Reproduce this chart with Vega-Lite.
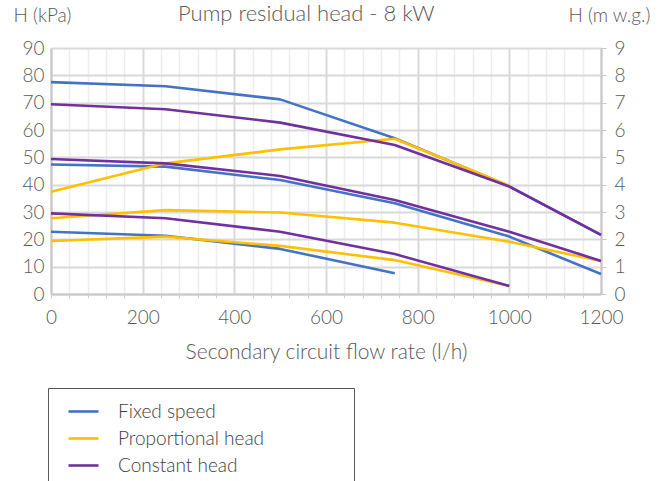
{
  "$schema": "https://vega.github.io/schema/vega-lite/v6.json",
  "width": 550,
  "height": 246,
  "autosize": {"type": "none"},
  "padding": {"left": 51, "top": 48, "right": 68, "bottom": 187},
  "background": "white",
  "config": {
    "font": "Lato",
    "view": {"stroke": null},
    "axis": {"labelFont": "Lato", "titleFont": "Lato", "labelFontWeight": 300, "titleFontWeight": 300, "labelColor": "#595959", "titleColor": "#595959", "labelFontSize": 19, "titleFontSize": 19}
  },
  "title": {"text": "Pump residual head - 8 kW", "frame": "group", "anchor": "start", "dx": 127, "offset": -30, "baseline": "middle", "fontSize": 22, "fontWeight": 300, "color": "#595959", "font": "Lato"},
  "datasets": {
    "curves": [
      {"mode": "Fixed speed", "curve": "FS1", "flow": 0, "kPa": 77.5},
      {"mode": "Fixed speed", "curve": "FS1", "flow": 250, "kPa": 76},
      {"mode": "Fixed speed", "curve": "FS1", "flow": 500, "kPa": 71.2},
      {"mode": "Fixed speed", "curve": "FS1", "flow": 750, "kPa": 57},
      {"mode": "Fixed speed", "curve": "FS1", "flow": 1000, "kPa": 39.4},
      {"mode": "Fixed speed", "curve": "FS1", "flow": 1200, "kPa": 21.6},
      {"mode": "Fixed speed", "curve": "FS2", "flow": 0, "kPa": 47.4},
      {"mode": "Fixed speed", "curve": "FS2", "flow": 250, "kPa": 46.6},
      {"mode": "Fixed speed", "curve": "FS2", "flow": 500, "kPa": 41.7},
      {"mode": "Fixed speed", "curve": "FS2", "flow": 750, "kPa": 33.2},
      {"mode": "Fixed speed", "curve": "FS2", "flow": 1000, "kPa": 21},
      {"mode": "Fixed speed", "curve": "FS2", "flow": 1200, "kPa": 7.3},
      {"mode": "Fixed speed", "curve": "FS3", "flow": 0, "kPa": 22.8},
      {"mode": "Fixed speed", "curve": "FS3", "flow": 250, "kPa": 21.3},
      {"mode": "Fixed speed", "curve": "FS3", "flow": 500, "kPa": 16.5},
      {"mode": "Fixed speed", "curve": "FS3", "flow": 750, "kPa": 7.6},
      {"mode": "Proportional head", "curve": "PH1", "flow": 0, "kPa": 37.4},
      {"mode": "Proportional head", "curve": "PH1", "flow": 250, "kPa": 47.8},
      {"mode": "Proportional head", "curve": "PH1", "flow": 500, "kPa": 52.9},
      {"mode": "Proportional head", "curve": "PH1", "flow": 750, "kPa": 56.8},
      {"mode": "Proportional head", "curve": "PH1", "flow": 1000, "kPa": 39.6},
      {"mode": "Proportional head", "curve": "PH2", "flow": 0, "kPa": 27.7},
      {"mode": "Proportional head", "curve": "PH2", "flow": 250, "kPa": 30.7},
      {"mode": "Proportional head", "curve": "PH2", "flow": 500, "kPa": 29.8},
      {"mode": "Proportional head", "curve": "PH2", "flow": 750, "kPa": 26.1},
      {"mode": "Proportional head", "curve": "PH2", "flow": 1000, "kPa": 19.1},
      {"mode": "Proportional head", "curve": "PH2", "flow": 1200, "kPa": 12.1},
      {"mode": "Proportional head", "curve": "PH3", "flow": 0, "kPa": 19.4},
      {"mode": "Proportional head", "curve": "PH3", "flow": 250, "kPa": 21},
      {"mode": "Proportional head", "curve": "PH3", "flow": 500, "kPa": 17.6},
      {"mode": "Proportional head", "curve": "PH3", "flow": 750, "kPa": 12.4},
      {"mode": "Proportional head", "curve": "PH3", "flow": 1000, "kPa": 2.9},
      {"mode": "Constant head", "curve": "CH1", "flow": 0, "kPa": 69.4},
      {"mode": "Constant head", "curve": "CH1", "flow": 250, "kPa": 67.6},
      {"mode": "Constant head", "curve": "CH1", "flow": 500, "kPa": 62.7},
      {"mode": "Constant head", "curve": "CH1", "flow": 750, "kPa": 54.5},
      {"mode": "Constant head", "curve": "CH1", "flow": 1000, "kPa": 39.3},
      {"mode": "Constant head", "curve": "CH1", "flow": 1200, "kPa": 21.6},
      {"mode": "Constant head", "curve": "CH2", "flow": 0, "kPa": 49.4},
      {"mode": "Constant head", "curve": "CH2", "flow": 250, "kPa": 47.8},
      {"mode": "Constant head", "curve": "CH2", "flow": 500, "kPa": 43.2},
      {"mode": "Constant head", "curve": "CH2", "flow": 750, "kPa": 34.4},
      {"mode": "Constant head", "curve": "CH2", "flow": 1000, "kPa": 22.8},
      {"mode": "Constant head", "curve": "CH2", "flow": 1200, "kPa": 12.1},
      {"mode": "Constant head", "curve": "CH3", "flow": 0, "kPa": 29.5},
      {"mode": "Constant head", "curve": "CH3", "flow": 250, "kPa": 27.7},
      {"mode": "Constant head", "curve": "CH3", "flow": 500, "kPa": 22.8},
      {"mode": "Constant head", "curve": "CH3", "flow": 750, "kPa": 14.6},
      {"mode": "Constant head", "curve": "CH3", "flow": 1000, "kPa": 2.9}
    ],
    "right": [
      {"flow": 0, "mwg": 0},
      {"flow": 1200, "mwg": 9}
    ]
  },
  "resolve": {"scale": {"y": "independent", "x": "shared"}, "axis": {"x": "independent", "y": "independent"}},
  "layer": [
    {
      "data": {"name": "right"},
      "mark": {"type": "point", "opacity": 0},
      "encoding": {
        "x": {"field": "flow", "type": "quantitative", "scale": {"domain": [0, 1200], "nice": false},
          "axis": {"orient": "bottom", "values": [0, 40, 80, 120, 160, 240, 280, 320, 360, 440, 480, 520, 560, 640, 680, 720, 760, 840, 880, 920, 960, 1040, 1080, 1120, 1160], "labels": false, "title": null, "domain": false, "ticks": true, "tickSize": 4, "tickColor": "#D0D0D0", "grid": true, "gridColor": "#EDEDED", "gridWidth": 1.5}},
        "y": {"field": "mwg", "type": "quantitative", "scale": {"domain": [0, 9], "nice": false},
          "axis": {"orient": "right", "values": [0, 1, 2, 3, 4, 5, 6, 7, 8, 9], "grid": false, "domain": true, "domainColor": "#C8C8C8", "domainWidth": 2, "ticks": true, "tickSize": 5, "tickColor": "#C8C8C8", "labelPadding": 8, "labelFlush": false, "title": "H (m w.g.)", "titleAngle": 0, "titleAlign": "left", "titleBaseline": "middle", "titleX": -33, "titleY": -33}}
      }
    },
    {
      "data": {"name": "curves"},
      "mark": {"type": "line", "strokeWidth": 2.6, "strokeJoin": "round"},
      "encoding": {
        "x": {"field": "flow", "type": "quantitative", "scale": {"domain": [0, 1200], "nice": false},
          "axis": {"orient": "bottom", "format": "d", "values": [0, 200, 400, 600, 800, 1000, 1200], "labelFlush": false, "grid": true, "gridColor": "#D9D9D9", "gridWidth": 2, "domain": true, "domainColor": "#C8C8C8", "domainWidth": 2, "ticks": false, "labelPadding": 14, "title": "Secondary circuit flow rate (l/h)", "titleFontSize": 21, "titlePadding": 14}},
        "y": {"field": "kPa", "type": "quantitative", "scale": {"domain": [0, 90], "nice": false},
          "axis": {"values": [0, 10, 20, 30, 40, 50, 60, 70, 80, 90], "labelFlush": false, "grid": true, "gridColor": "#D9D9D9", "gridWidth": 2, "domain": true, "domainColor": "#C8C8C8", "domainWidth": 2, "ticks": false, "labelPadding": 7, "title": "H (kPa)", "titleAngle": 0, "titleAlign": "left", "titleBaseline": "middle", "titleX": -38, "titleY": -33}},
        "color": {"field": "mode", "type": "nominal", "scale": {"domain": ["Fixed speed", "Proportional head", "Constant head"], "range": ["#4472C4", "#FFC000", "#7030A0"]},
          "legend": {"orient": "none", "legendX": -3, "legendY": 340, "title": null, "strokeColor": "#595959", "padding": 7, "symbolType": "stroke", "symbolSize": 900, "symbolStrokeWidth": 2.6, "symbolOffset": 12, "labelOffset": 18, "labelFontSize": 19, "labelFont": "Lato", "labelFontWeight": 300, "labelColor": "#404040", "rowPadding": 0, "labelLimit": 400,
            "labelExpr": "datum.label + '\u00a0\u00a0\u00a0\u00a0\u00a0\u00a0\u00a0\u00a0\u00a0\u00a0\u00a0\u00a0\u00a0\u00a0\u00a0\u00a0\u200b'"}},
        "detail": {"field": "curve", "type": "nominal"},
        "order": {"field": "flow", "type": "quantitative"}
      }
    }
  ]
}
